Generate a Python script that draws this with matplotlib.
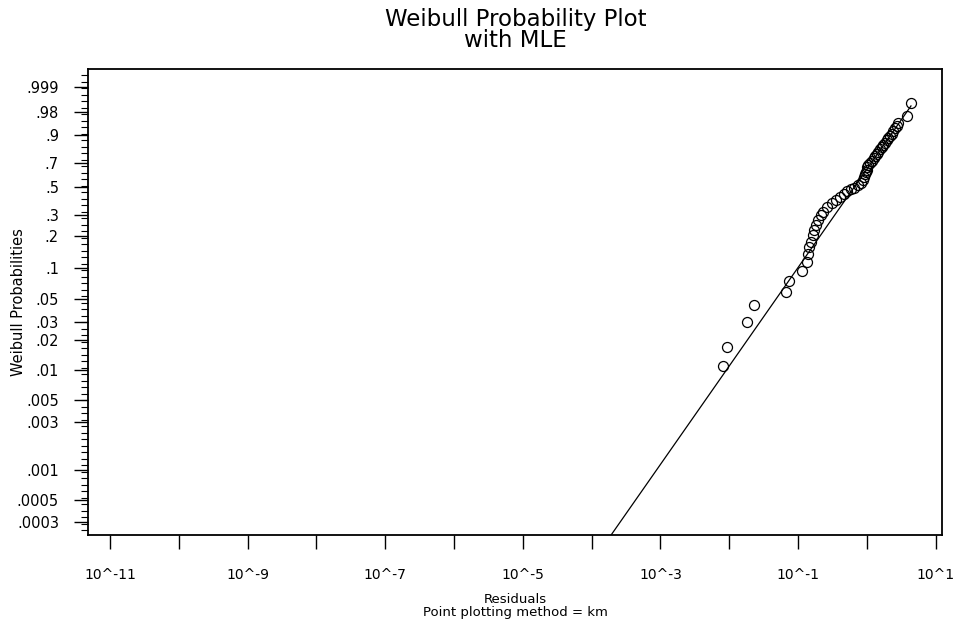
import numpy as np
import matplotlib
matplotlib.use('Agg')
import matplotlib.pyplot as plt
from matplotlib.ticker import NullLocator

# residuals and their km plotting positions
residuals = [0.00804, 0.0092, 0.01796, 0.02293, 0.0663, 0.0747, 0.1132, 0.1338,
             0.1384, 0.146, 0.153, 0.1669, 0.1725, 0.1826, 0.1973, 0.2159,
             0.2332, 0.2614, 0.309, 0.3566, 0.4077, 0.4663, 0.5207, 0.5891,
             0.6516, 0.7522, 0.8234, 0.8895, 0.926, 0.9415, 0.9736, 0.9967,
             1.0237, 1.0585, 1.1131, 1.2024, 1.2726, 1.3381, 1.407, 1.4696,
             1.5555, 1.6465, 1.737, 1.8388, 1.9461, 2.0535, 2.1737, 2.301,
             2.4281, 2.57, 2.7202, 2.8698, 3.8019, 4.3893]
km_probs = [0.0109, 0.017, 0.0302, 0.044, 0.0593, 0.0758, 0.0946, 0.1136,
            0.1374, 0.1588, 0.1764, 0.2027, 0.2245, 0.2483, 0.2741, 0.302,
            0.3216, 0.3511, 0.3777, 0.3985, 0.4201, 0.4423, 0.4652, 0.4808,
            0.4926, 0.5127, 0.533, 0.5537, 0.5788, 0.6, 0.621, 0.6423,
            0.6635, 0.6804, 0.6972, 0.7138, 0.7343, 0.7544, 0.7702, 0.7856,
            0.8044, 0.8189, 0.8364, 0.8498, 0.8658, 0.878, 0.8923, 0.903,
            0.918, 0.9293, 0.9415, 0.9517, 0.9709, 0.9911]

# MLE weibull fit
mle_shape = 0.987
mle_scale = 0.965

prob_ticks = [0.0003, 0.0005, 0.001, 0.003, 0.005, 0.01, 0.02, 0.03, 0.05,
              0.1, 0.2, 0.3, 0.5, 0.7, 0.9, 0.98, 0.999]
prob_labels = ['.0003', '.0005', '.001', '.003', '.005', '.01', '.02', '.03',
               '.05', '.1', '.2', '.3', '.5', '.7', '.9', '.98', '.999']
x_exps = list(range(-11, 2))


def weibull_fwd(p):
    p = np.clip(np.asarray(p, dtype=float), 1e-15, 1 - 1e-15)
    return np.log(-np.log(1 - p))


def weibull_inv(w):
    return 1 - np.exp(-np.exp(np.asarray(w, dtype=float)))


def main():
    plt.rcParams['font.family'] = ['DejaVu Sans']
    fig = plt.figure(figsize=(9.56, 6.29), dpi=100)
    ax = fig.add_axes([0.0921, 0.1502, 0.8933, 0.7401])

    ax.set_xscale('log')
    ax.set_yscale('function', functions=(weibull_fwd, weibull_inv))

    # fitted line
    x_fit = np.logspace(-4.5, np.log10(max(residuals)), 300)
    p_fit = 1 - np.exp(-(x_fit / mle_scale) ** mle_shape)
    ax.plot(x_fit, p_fit, color='black', lw=0.9)

    ax.plot(residuals, km_probs, 'o', mfc='none', mec='black', ms=7.2, mew=0.9)

    ax.set_xlim(10 ** -11.32, 10 ** 1.094)
    ax.set_ylim(weibull_inv(-8.40), weibull_inv(2.348))

    ax.set_xticks([10.0 ** e for e in x_exps],
                  ['10^%d' % e if e % 2 else '' for e in x_exps])
    ax.xaxis.set_minor_locator(NullLocator())
    ax.set_yticks(prob_ticks, prob_labels)
    ax.set_yticks(weibull_inv(np.arange(-8.3, 2.3, 0.15)), minor=True)
    ax.yaxis.set_ticklabels([], minor=True)

    ax.tick_params(axis='x', direction='out', length=10, width=1, pad=14, labelsize=10)
    ax.tick_params(axis='y', which='major', direction='out', length=10, width=1,
                   pad=11, labelsize=10.5)
    ax.tick_params(axis='y', which='minor', direction='out', length=5, width=0.8)
    for s in ax.spines.values():
        s.set_linewidth(1.3)

    fig.text(0.539, 0.988, 'Weibull Probability Plot\nwith MLE', ha='center',
             va='top', fontsize=16.5, linespacing=0.9)
    fig.text(0.539, 0.058, 'Residuals\nPoint plotting method = km', ha='center',
             va='top', fontsize=9.5, linespacing=1.0)
    fig.text(0.019, 0.52, 'Weibull Probabilities', rotation=90, ha='center',
             va='center', fontsize=10.5)

    fig.savefig('out.png', dpi=100)


if __name__ == "__main__":
    main()
